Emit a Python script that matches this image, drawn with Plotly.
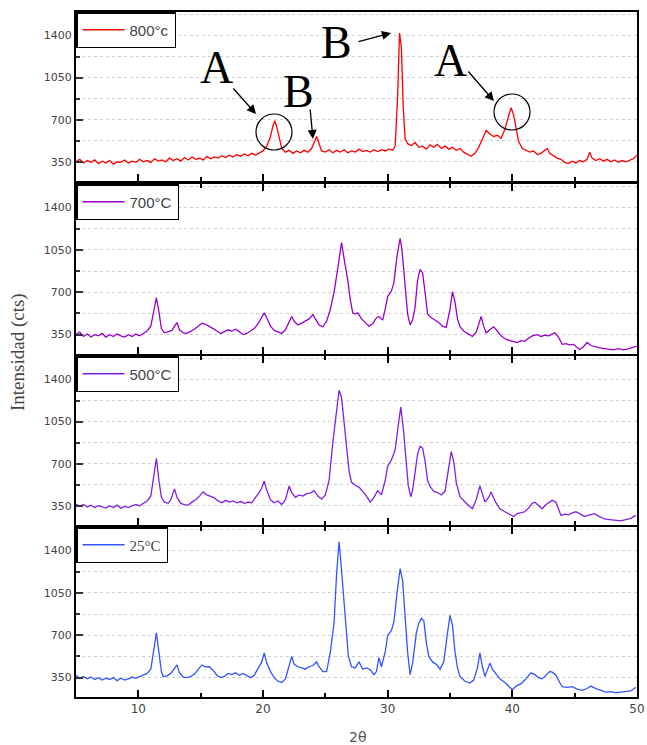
import plotly.graph_objects as go

# ---------------- data ----------------
x_800 = [5.0,5.3,5.6,5.9,6.2,6.5,6.8,7.1,7.4,7.7,8.0,8.3,8.6,8.9,9.2,9.5,9.8,10.1,10.4,10.7,11.0,11.3,11.6,11.9,12.2,12.5,12.8,13.1,13.4,13.7,14.0,14.3,14.6,14.9,15.2,15.5,15.8,16.1,16.4,16.7,17.0,17.3,17.6,17.9,18.2,18.5,18.8,19.1,19.4,19.7,20.0,20.3,20.6,20.8,20.95,21.1,21.3,21.5,21.8,22.1,22.4,22.7,23.0,23.3,23.6,23.9,24.1,24.3,24.5,24.7,25.0,25.3,25.6,25.9,26.2,26.5,26.8,27.1,27.4,27.7,28.0,28.3,28.6,28.9,29.2,29.5,29.8,30.1,30.4,30.6,30.8,30.95,31.1,31.25,31.4,31.6,31.9,32.2,32.5,32.8,33.1,33.4,33.7,34.0,34.3,34.6,34.9,35.2,35.5,35.8,36.1,36.4,36.7,37.0,37.3,37.6,37.9,38.2,38.5,38.8,39.1,39.4,39.7,39.9,40.1,40.3,40.5,40.8,41.1,41.4,41.7,42.0,42.3,42.6,42.8,43.0,43.3,43.6,43.9,44.2,44.5,44.8,45.1,45.4,45.7,46.0,46.2,46.4,46.7,47.0,47.3,47.6,47.9,48.2,48.5,48.8,49.1,49.4,49.7,50.0]
y_800 = [350,370,340,360,345,365,335,355,340,360,330,350,345,365,340,355,345,370,350,360,345,375,355,365,350,380,360,375,355,385,365,390,370,380,365,395,375,390,380,400,385,405,390,410,395,415,400,420,405,425,440,480,560,650,690,640,540,460,430,445,420,440,425,445,430,460,510,560,500,440,430,450,425,445,430,450,425,440,430,455,435,445,430,450,435,450,440,455,445,480,900,1420,1300,800,540,500,485,510,470,480,455,490,470,495,460,480,455,470,445,460,430,410,395,420,470,540,610,580,560,570,545,620,730,800,740,640,520,460,445,430,440,410,420,440,460,420,400,380,370,345,335,355,340,360,350,370,430,380,360,375,355,370,350,365,345,360,350,365,375,405]

x_700 = [5.0,5.3,5.6,5.9,6.2,6.5,6.8,7.1,7.4,7.7,8.0,8.3,8.6,8.9,9.2,9.5,9.8,10.1,10.4,10.7,11.0,11.2,11.45,11.65,11.85,12.1,12.4,12.7,12.9,13.1,13.3,13.6,13.9,14.2,14.5,14.8,15.1,15.4,15.7,16.0,16.3,16.6,16.9,17.2,17.5,17.8,18.1,18.4,18.7,19.0,19.3,19.6,19.9,20.1,20.3,20.6,20.9,21.2,21.5,21.8,22.0,22.3,22.5,22.8,23.1,23.4,23.7,24.0,24.2,24.5,24.8,25.1,25.4,25.7,26.0,26.3,26.5,26.8,27.0,27.2,27.4,27.6,27.9,28.2,28.5,28.8,29.1,29.3,29.6,29.8,30.0,30.3,30.5,30.75,31.0,31.15,31.4,31.6,31.8,32.0,32.2,32.4,32.6,32.8,33.0,33.2,33.5,33.8,34.1,34.4,34.7,35.0,35.2,35.4,35.6,35.8,36.1,36.4,36.8,37.1,37.3,37.5,37.7,37.9,38.2,38.5,38.8,39.1,39.5,39.8,40.1,40.4,40.7,41.0,41.3,41.6,42.0,42.3,42.6,42.9,43.2,43.4,43.7,44.0,44.3,44.6,44.9,45.2,45.4,45.7,46.0,46.3,46.6,47.0,47.4,47.8,48.1,48.5,48.9,49.2,49.6,50.0]
y_700 = [350,370,335,355,330,350,340,360,330,350,335,355,340,330,350,335,355,340,360,380,420,520,655,540,400,365,375,385,420,450,390,365,360,375,395,420,445,435,420,400,380,360,375,390,380,395,375,350,360,380,400,440,500,530,490,420,385,370,360,390,440,500,460,430,445,460,480,515,480,430,415,460,560,700,900,1110,980,800,640,530,520,530,480,450,420,440,490,500,470,560,665,710,780,1000,1145,1050,720,520,430,470,580,800,890,860,700,520,490,470,450,420,410,560,705,620,480,415,380,360,335,370,440,500,420,365,390,415,380,340,310,300,290,285,300,295,320,340,350,335,345,340,355,365,330,270,275,265,270,240,225,250,285,260,250,240,235,230,225,235,225,230,240,255]

x_500 = [5.0,5.3,5.6,5.9,6.2,6.5,6.8,7.1,7.4,7.7,8.0,8.3,8.6,8.9,9.2,9.5,9.8,10.1,10.4,10.7,11.0,11.2,11.45,11.65,11.85,12.1,12.4,12.6,12.9,13.1,13.4,13.7,14.0,14.3,14.6,14.9,15.2,15.5,15.8,16.1,16.4,16.7,17.0,17.3,17.6,17.9,18.2,18.5,18.8,19.1,19.4,19.7,19.9,20.1,20.3,20.6,20.9,21.2,21.5,21.8,22.1,22.3,22.6,22.9,23.2,23.5,23.8,24.1,24.4,24.7,25.0,25.3,25.6,25.9,26.1,26.3,26.5,26.7,26.9,27.1,27.4,27.7,28.0,28.3,28.6,28.9,29.2,29.5,29.8,30.0,30.3,30.6,30.85,31.05,31.25,31.45,31.65,31.85,32.0,32.2,32.4,32.6,32.8,33.0,33.2,33.4,33.7,34.0,34.3,34.6,34.9,35.1,35.3,35.5,35.8,36.1,36.4,36.8,37.1,37.4,37.6,37.8,38.1,38.3,38.6,39.0,39.4,39.8,40.1,40.4,40.7,41.0,41.3,41.6,41.8,42.1,42.4,42.7,43.0,43.2,43.5,43.7,43.9,44.2,44.5,44.8,45.1,45.4,45.8,46.2,46.6,47.0,47.4,47.8,48.2,48.7,49.1,49.5,49.9]
y_500 = [365,345,360,340,355,335,350,340,330,350,335,355,330,345,335,350,360,350,370,390,430,560,745,560,420,380,370,400,490,420,370,360,355,380,400,430,465,440,430,415,390,375,395,380,390,375,385,370,380,375,420,460,500,555,480,400,375,390,360,400,515,460,420,440,430,450,455,475,430,405,440,560,875,1150,1310,1250,1060,850,640,545,520,505,470,430,380,420,475,440,560,680,730,815,1020,1170,1000,780,520,425,480,630,780,845,830,720,560,510,470,460,440,470,650,800,720,545,425,390,360,325,400,515,440,380,420,465,390,325,300,280,260,285,290,300,330,370,380,350,325,360,380,395,380,330,270,280,275,290,300,285,260,275,285,260,240,235,230,225,235,245,270]

x_25 = [5.0,5.3,5.6,5.9,6.2,6.5,6.8,7.1,7.4,7.7,8.0,8.3,8.6,8.9,9.2,9.5,9.8,10.1,10.4,10.7,11.0,11.2,11.45,11.65,11.85,12.0,12.3,12.6,12.9,13.1,13.3,13.6,13.9,14.2,14.5,14.8,15.1,15.4,15.7,16.0,16.3,16.6,16.9,17.2,17.5,17.8,18.1,18.4,18.7,19.0,19.3,19.6,19.9,20.1,20.3,20.6,20.9,21.2,21.5,21.8,22.0,22.3,22.5,22.8,23.1,23.4,23.7,24.0,24.3,24.5,24.8,25.1,25.4,25.7,25.9,26.1,26.25,26.45,26.65,26.85,27.1,27.4,27.7,28.0,28.3,28.6,28.9,29.1,29.3,29.5,29.8,30.0,30.3,30.5,30.75,31.0,31.2,31.4,31.6,31.8,32.0,32.3,32.5,32.7,32.9,33.1,33.3,33.6,33.9,34.2,34.5,34.8,35.0,35.2,35.4,35.6,35.8,36.2,36.6,36.9,37.2,37.4,37.6,37.8,38.0,38.2,38.4,38.6,39.0,39.4,39.8,40.0,40.3,40.7,41.0,41.3,41.5,41.8,42.1,42.4,42.7,43.0,43.2,43.5,43.8,44.0,44.4,44.8,45.2,45.6,46.0,46.3,46.7,47.1,47.5,47.9,48.3,48.7,49.1,49.5,49.9]
y_25 = [370,345,360,340,355,335,350,330,345,335,350,325,345,330,340,355,345,360,375,385,420,540,720,560,400,360,365,385,430,455,390,355,350,360,380,420,455,440,440,410,370,350,360,385,375,390,370,385,365,350,370,430,480,555,470,400,350,320,310,340,420,525,460,440,430,420,440,450,480,440,400,400,560,800,1200,1475,1300,1015,750,525,440,430,480,420,430,415,375,400,515,440,560,700,740,810,1050,1250,1150,825,560,375,470,720,800,840,820,640,525,480,460,420,480,720,865,780,565,430,360,320,305,330,430,555,440,360,420,470,420,390,340,310,270,250,280,300,330,370,390,375,350,340,370,400,395,370,310,275,270,275,255,245,260,280,260,245,230,235,225,230,235,240,270]

series_names = ["800°c", "700°C", "500°C", "25°C"]
series_x = [x_800, x_700, x_500, x_25]
series_y = [y_800, y_700, y_500, y_25]
series_colors = ["#ff0000", "#9900cc", "#8020e6", "#3355ff"]

x_ticks = [10, 20, 30, 40, 50]
x_minor = [15, 25, 35, 45]
y_ticks = [350, 700, 1050, 1400]
y_minor = [525, 875, 1225, 1575]

# ---------------- layout geometry ----------------
W, H = 647, 745
ML, MR, MT, MB = 76, 10, 12, 48
PW = W - ML - MR
PH = H - MT - MB

def px(xp, yp):
    return (xp - ML) / PW, (H - MB - yp) / PH

# panel pixel extents (top, bottom) in the page
panels_px = [(12, 181), (184, 354), (356, 525), (527, 697)]
domains = [[(H - MB - b) / PH, (H - MB - t) / PH] for t, b in panels_px]

fig = go.Figure()
serif = "Liberation Serif"
sans = "DejaVu Sans"
legend_fonts = ["Liberation Sans", "Liberation Sans", "Liberation Sans", serif]

for i in range(4):
    ax = "" if i == 0 else str(i + 1)
    leg = "legend" if i == 0 else "legend" + str(i + 1)
    fig.add_trace(go.Scatter(
        x=series_x[i], y=series_y[i], mode="lines", name=series_names[i],
        line=dict(color=series_colors[i], width=1.3),
        xaxis="x" + ax, yaxis="y" + ax, legend=leg, showlegend=True))

layout = dict(
    width=W, height=H, margin=dict(l=ML, r=MR, t=MT, b=MB, autoexpand=False),
    paper_bgcolor="white", plot_bgcolor="white", showlegend=True,
)
for i in range(4):
    ax = "" if i == 0 else str(i + 1)
    layout["xaxis" + ax] = dict(
        range=[5, 50], domain=[0, 1], anchor="y" + ax, automargin=False,
        tickvals=x_ticks, ticks="inside", ticklen=7, tickwidth=2, tickcolor="black",
        minor=dict(tickvals=x_minor, ticks="inside", ticklen=4, tickwidth=1.5, tickcolor="black"),
        showticklabels=(i == 3), showgrid=False, zeroline=False,
        showline=True, linecolor="black", linewidth=2,
        mirror=(True if i == 0 else "ticks"),
        tickfont=dict(family=sans, size=12, color="#444"),
    )
    layout["yaxis" + ax] = dict(
        range=[190, 1595], domain=domains[i], anchor="x" + ax, automargin=False,
        tickvals=y_ticks, ticks="inside", ticklen=7, tickwidth=2, tickcolor="#333",
        showgrid=True, gridcolor="#cfcfcf", gridwidth=1, griddash="dot",
        minor=dict(tickvals=y_minor, ticks="inside", ticklen=4, tickwidth=1.5, tickcolor="#333",
                   showgrid=True, gridcolor="#cfcfcf", gridwidth=1, griddash="dot"),
        zeroline=False, showline=True, linecolor="black", linewidth=2, mirror=True,
        tickfont=dict(family=sans, size=11, color="#444"),
    )
    leg = "legend" if i == 0 else "legend" + str(i + 1)
    layout[leg] = dict(
        x=0.0, y=domains[i][1], xanchor="left", yanchor="top",
        xref="paper", yref="paper",
        bgcolor="white", bordercolor="black", borderwidth=1.5,
        font=dict(family=legend_fonts[i], size=15, color="#444"),
        itemwidth=42, tracegroupgap=0,
    )

fig.update_layout(**layout)

# axis titles
fig.add_annotation(text="Intensidad (cts)", x=px(18, 0)[0], y=px(0, 352)[1],
                   xref="paper", yref="paper", textangle=-90, showarrow=False,
                   xanchor="center", yanchor="middle",
                   font=dict(family=serif, size=19, color="#444"))
fig.add_annotation(text="2θ", x=px(357, 0)[0], y=px(0, 737)[1],
                   xref="paper", yref="paper", showarrow=False,
                   xanchor="center", yanchor="middle",
                   font=dict(family=sans, size=14, color="#555"))

# letter labels
letters = [("A", 216, 68), ("B", 298, 91), ("B", 336, 43), ("A", 450, 60)]
for t, lx, ly in letters:
    xx, yy = px(lx, ly)
    fig.add_annotation(text=t, x=xx, y=yy, xref="paper", yref="paper", showarrow=False,
                       xanchor="center", yanchor="middle",
                       font=dict(family=serif, size=46, color="black"))

# arrows (tail -> head) in page pixels
arrows = [((232, 87), (256, 114)), ((310, 108), (313, 139)),
          ((357, 42), (391, 33)), ((467, 70), (494, 101))]
for (tx, ty), (hx, hy) in arrows:
    xx, yy = px(hx, hy)
    fig.add_annotation(text="", x=xx, y=yy, xref="paper", yref="paper",
                       ax=tx - hx, ay=ty - hy, showarrow=True,
                       arrowhead=2, arrowsize=1.4, arrowwidth=1.3, arrowcolor="black")

# circles
for cx, cy, r in [(274, 132, 18), (512, 112, 18)]:
    x0, y0 = px(cx - r, cy + r)
    x1, y1 = px(cx + r, cy - r)
    fig.add_shape(type="circle", xref="paper", yref="paper", x0=x0, y0=y0, x1=x1, y1=y1,
                  line=dict(color="black", width=1.2))

fig.write_html("out.html", config={"displayModeBar": False},
               post_script="document.body.style.margin='0';")
